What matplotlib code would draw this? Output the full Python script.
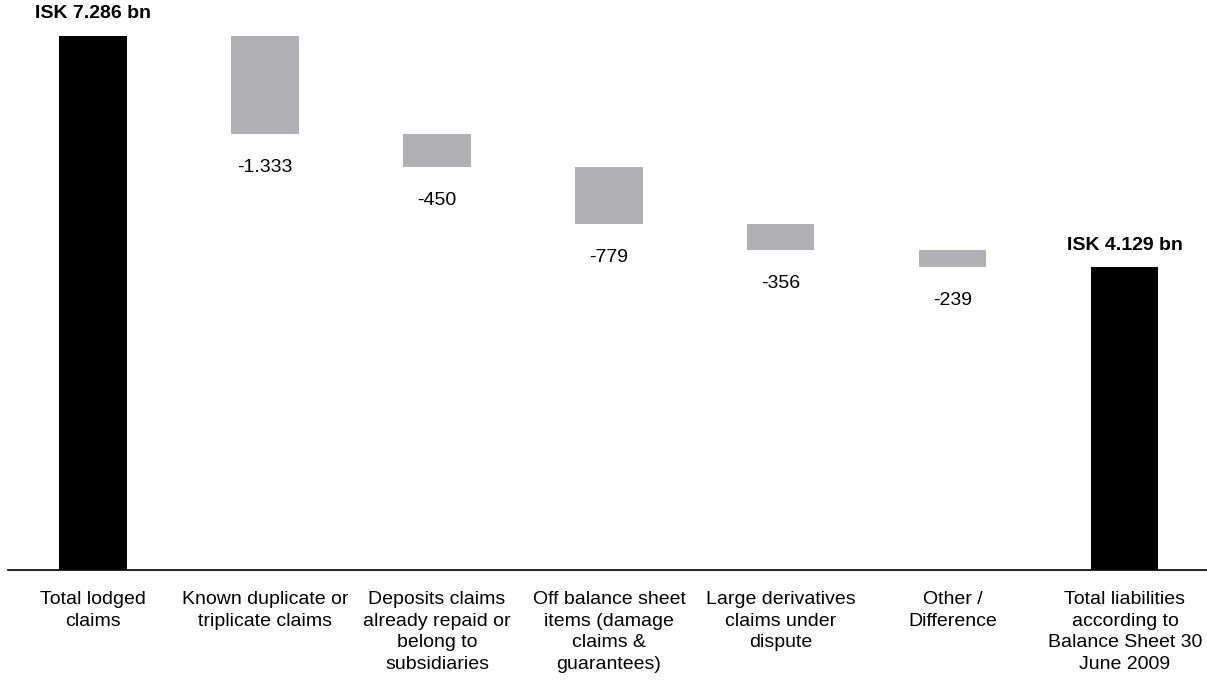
import matplotlib.pyplot as plt
import numpy as np

plt.rcParams["font.family"] = ["Liberation Sans", "DejaVu Sans"]

categories = [
    "Total lodged\nclaims",
    "Known duplicate or\ntriplicate claims",
    "Deposits claims\nalready repaid or\nbelong to\nsubsidiaries",
    "Off balance sheet\nitems (damage\nclaims &\nguarantees)",
    "Large derivatives\nclaims under\ndispute",
    "Other /\nDifference",
    "Total liabilities\naccording to\nBalance Sheet 30\nJune 2009",
]
start_total = 7286
changes = [-1333, -450, -779, -356, -239]
change_labels = ["-1.333", "-450", "-779", "-356", "-239"]
total_labels = ["ISK 7.286 bn", "ISK 4.129 bn"]

end_total = start_total + sum(changes)

fig = plt.figure(figsize=(12.07, 6.81), dpi=100)
ax = fig.add_axes([8 / 1207, 111 / 681, 1 - 8 / 1207, 570 / 681])

x = np.arange(len(categories))
width = 0.39
black = "#000000"
grey = "#b1b1b5"

# totals
ax.bar(x[0], start_total, width, color=black)
ax.bar(x[-1], end_total, width, color=black)
for xi, val, lab in [(x[0], start_total, total_labels[0]), (x[-1], end_total, total_labels[1])]:
    ax.annotate(lab, (xi, val), xytext=(0, 16), textcoords="offset points",
                ha="center", va="center", fontsize=14, fontweight="bold")

# floating decrements
level = start_total
for i, (c, lab) in enumerate(zip(changes, change_labels)):
    top = level
    level = level + c
    ax.bar(x[i + 1], top - level, width, bottom=level, color=grey)
    ax.annotate(lab, (x[i + 1], level), xytext=(0, -24), textcoords="offset points",
                ha="center", va="center", fontsize=14)

ax.set_xlim(-0.494, 6.477)
ax.set_ylim(0, 7777)
ax.set_xticks(x)
ax.set_xticklabels(categories, fontsize=14, linespacing=1.36)
ax.tick_params(axis="x", length=0, pad=15)
ax.set_yticks([])
for side in ["left", "right", "top"]:
    ax.spines[side].set_visible(False)
ax.spines["bottom"].set_linewidth(1.2)

fig.savefig("out.png", dpi=100)
